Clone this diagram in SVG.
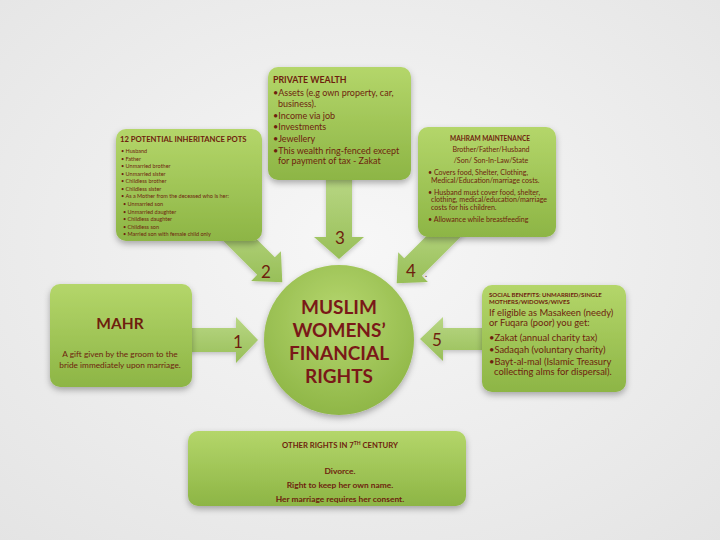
<svg xmlns="http://www.w3.org/2000/svg" width="720" height="540" viewBox="0 0 720 540">
<defs>
<radialGradient id="bg" cx="0.5" cy="0.45" r="0.75">
<stop offset="0" stop-color="#f7f7f7"/>
<stop offset="1" stop-color="#e4e4e4"/>
</radialGradient>
<linearGradient id="box" x1="0" y1="0" x2="0" y2="1">
<stop offset="0" stop-color="#b4d66a"/>
<stop offset="1" stop-color="#8db545"/>
</linearGradient>
<linearGradient id="arr" x1="0" y1="0" x2="0" y2="1">
<stop offset="0" stop-color="#b9d785"/>
<stop offset="1" stop-color="#98bf58"/>
</linearGradient>
<radialGradient id="circ" cx="0.5" cy="0.35" r="0.7">
<stop offset="0" stop-color="#b6d76f"/>
<stop offset="1" stop-color="#8cb444"/>
</radialGradient>
<filter id="sh" x="-15%" y="-15%" width="130%" height="140%">
<feDropShadow dx="0" dy="3" stdDeviation="3" flood-color="#000" flood-opacity="0.3"/>
</filter>
<filter id="ash" x="-15%" y="-15%" width="130%" height="140%">
<feDropShadow dx="0" dy="2" stdDeviation="2" flood-color="#000" flood-opacity="0.2"/>
</filter>
</defs>
<style>
text { font-family: Lato, "Liberation Sans", sans-serif; fill: #6e1e0e; }
.b { font-weight: bold; }
.num { font-size: 17px; }
.box { fill: url(#box); filter: url(#sh); }
.arrow { fill: url(#arr); filter: url(#ash); }
.c { text-anchor: middle; }
.ct { font-weight: bold; font-size: 19px; fill: #7a1818; text-anchor: middle; }
</style>
<rect width="720" height="540" fill="url(#bg)"/>

<g id="connectors">
<polygon class="arrow" points="185,328 236,328 236,317 258,340 236,363 236,352 185,352"/>
<polygon class="arrow" points="490,328 443,328 443,317 420,339 443,361 443,350 490,350"/>
<polygon class="arrow" points="326,175 352,175 352,237 364,237 339,259 314,237 326,237"/>
<polygon class="arrow" points="230.8,213.2 274.8,257.2 280.9,251.2 282.3,282.3 251.2,280.9 257.2,274.8 213.2,230.8"/>
<polygon class="arrow" points="448.2,214.2 404.2,258.2 398.2,252.2 396.7,283.3 427.9,281.9 421.8,275.8 465.8,231.8"/>
<text class="num c" x="238" y="348">1</text>
<text class="num c" x="266" y="278">2</text>
<text class="num c" x="340" y="244">3</text>
<text class="num c" x="411" y="277">4</text>
<text x="425" y="277" style="font-size:9px">.</text>
<text class="num c" x="437" y="346">5</text>
</g>

<g id="inheritance">
<rect class="box" x="116" y="129" width="146" height="112" rx="10"/>
<text class="b" x="120" y="142" style="font-size:7.7px">12 POTENTIAL INHERITANCE POTS</text>
<g style="font-size:5.5px">
<text x="121" y="153">• Husband</text>
<text x="121" y="160.5">• Father</text>
<text x="121" y="168">• Unmarried brother</text>
<text x="121" y="175.5">• Unmarried sister</text>
<text x="121" y="183">• Childless brother</text>
<text x="121" y="190.5">• Childless sister</text>
<text x="121" y="198">• As a Mother from the deceased who is her:</text>
<text x="123" y="206">• Unmarried son</text>
<text x="123" y="213.5">• Unmarried daughter</text>
<text x="123" y="221">• Childless daughter</text>
<text x="123" y="228.5">• Childless son</text>
<text x="123" y="236">• Married son with female child only</text>
</g>
</g>

<g id="private-wealth">
<rect class="box" x="268" y="67" width="143" height="113" rx="10"/>
<text class="b" x="273" y="82.5" style="font-size:8.8px">PRIVATE WEALTH</text>
<g style="font-size:9px">
<text x="273" y="96">•Assets (e.g own property, car,</text>
<text x="278" y="106.5">business).</text>
<text x="273" y="118.5">•Income via job</text>
<text x="273" y="130">•Investments</text>
<text x="273" y="141.5">•Jewellery</text>
<text x="273" y="153.5">•This wealth ring-fenced except</text>
<text x="278" y="164">for payment of tax - Zakat</text>
</g>
</g>

<g id="mahram">
<rect class="box" x="418" y="127" width="138" height="110" rx="10"/>
<text class="b c" x="490" y="141" style="font-size:6.5px">MAHRAM MAINTENANCE</text>
<g style="font-size:7.1px">
<text class="c" x="491" y="152">Brother/Father/Husband</text>
<text class="c" x="491" y="162.5">/Son/ Son-In-Law/State</text>
<text x="428" y="175">• Covers food, Shelter, Clothing,</text>
<text x="431" y="182.5">Medical/Education/marriage costs.</text>
<text x="428" y="194.5">• Husband must cover food, shelter,</text>
<text x="431" y="202">clothing, medical/education/marriage</text>
<text x="431" y="209.5">costs for his children.</text>
<text x="428" y="222">• Allowance while breastfeeding</text>
</g>
</g>

<g id="social-benefits">
<rect class="box" x="482" y="285" width="144" height="107" rx="10"/>
<text class="b" x="489" y="297" style="font-size:6px">SOCIAL BENEFITS: UNMARRIED/SINGLE</text>
<text class="b" x="489" y="304" style="font-size:6px">MOTHERS/WIDOWS/WIVES</text>
<g style="font-size:9.4px">
<text x="489" y="315.5">If eligible as Masakeen (needy)</text>
<text x="489" y="325.5">or Fuqara (poor) you get:</text>
<text x="489" y="340.5">•Zakat (annual charity tax)</text>
<text x="489" y="352.5">•Sadaqah (voluntary charity)</text>
<text x="489" y="364.5">•Bayt-al-mal (Islamic Treasury</text>
<text x="494" y="375">collecting alms for dispersal).</text>
</g>
</g>

<g id="mahr">
<rect class="box" x="50" y="284" width="142" height="103" rx="10"/>
<text class="b c" x="120" y="329" style="font-size:15.5px">MAHR</text>
<text class="c" x="120" y="357" style="font-size:8.3px">A gift given by the groom to the</text>
<text class="c" x="120" y="367.5" style="font-size:8.3px">bride immediately upon marriage.</text>
</g>

<g id="center">
<circle cx="339" cy="340" r="75" fill="url(#circ)" filter="url(#sh)"/>
<text class="ct" x="339" y="314">MUSLIM</text>
<text class="ct" x="339" y="337">WOMENS’</text>
<text class="ct" x="339" y="360">FINANCIAL</text>
<text class="ct" x="339" y="383">RIGHTS</text>
</g>

<g id="other-rights">
<rect class="box" x="188" y="431" width="278" height="75" rx="10"/>
<text class="b c" x="340" y="448" style="font-size:7.7px">OTHER RIGHTS IN 7<tspan dy="-3" style="font-size:5px">TH</tspan><tspan dy="3"> CENTURY</tspan></text>
<g class="b" style="font-size:8.4px">
<text class="c" x="340" y="474">Divorce.</text>
<text class="c" x="340" y="487.5">Right to keep her own name.</text>
<text class="c" x="340" y="501.5">Her marriage requires her consent.</text>
</g>
</g>
</svg>
